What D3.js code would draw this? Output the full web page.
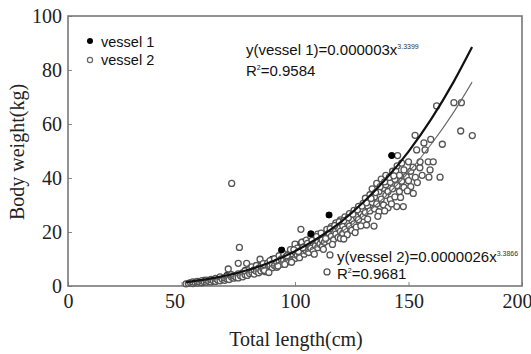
<!DOCTYPE html>
<html>
<head>
<meta charset="utf-8">
<script src="https://cdn.jsdelivr.net/npm/d3@7/dist/d3.min.js"></script>
<style>
  body { margin: 0; background: #fff; }
  svg { display: block; }
</style>
</head>
<body>
<div class="chart"></div>
<script>

// ticks
var xTicks = [0, 50, 100, 150, 200];
var yTicks = [0, 20, 40, 60, 80, 100];

// vessel 1 points (total length, body weight)
var vessel1 = [
	[142.6, 48.3], [115, 26.3], [107, 19.3], [94.1, 13.3],
	[100, 14.0], [104, 16.5], [102, 15.4], [85, 8.0], [90, 10.0], [60, 2.2], [70, 4.0], [78, 5.8]
];

// vessel 2 points
var vessel2 = [
	[52, 0.8], [53, 1.0], [54, 1.2], [55, 0.9], [55, 1.5], [56, 1.3], [57, 1.1], [57, 1.7], [58, 1.4], [59, 1.2], [59, 2.0], [60, 1.6],
	[61, 1.4], [61, 2.2], [62, 1.8], [63, 1.5], [63, 2.4], [64, 2.0], [65, 1.7], [65, 2.8], [66, 2.2], [67, 1.9], [67, 3.4], [68, 2.5], [69, 2.1], [69, 3.0], [70, 2.7], [70, 3.6],
	[71, 2.4], [72, 3.3], [72, 4.2], [73, 2.9], [73, 3.8], [74, 3.2], [75, 4.5], [75, 3.0], [76, 3.8], [77, 4.9], [77, 3.4], [78, 4.2], [78, 5.6], [79, 3.9], [80, 4.6], [80, 6.2],
	[70.6, 6.3], [72.1, 38], [75, 8.4], [75.5, 14.3], [78.7, 8.4], [84.6, 9.9],
	[81, 5.0], [81, 7.1], [82, 4.4], [82, 6.0], [83, 5.5], [83, 7.6], [84, 4.9], [84, 6.6], [85, 7.2], [85, 5.6], [86, 6.2], [86, 8.3], [87, 7.0], [87, 5.3], [88, 8.6], [88, 6.4], [89, 7.4], [89, 9.4], [90, 6.8], [90, 8.2],
	[91, 7.6], [91, 10.1], [92, 8.8], [92, 6.9], [93, 9.3], [93, 11.2], [94, 8.1], [94, 10.0], [95, 9.5], [95, 12.0], [96, 8.6], [96, 10.8], [97, 11.5], [97, 9.2], [98, 10.4], [98, 13.0], [99, 9.8], [99, 11.9], [100, 12.6], [100, 10.2], [100, 15.5],
	[102.6, 21], [98, 13.5],
	[101, 11.3], [101, 14.0], [102, 12.2], [102, 10.5], [103, 13.5], [103, 16.2], [104, 11.8], [104, 14.6], [105, 13.0], [105, 17.0], [106, 15.2], [106, 12.4], [107, 14.0], [107, 18.1], [108, 16.0], [108, 13.2], [109, 15.0], [109, 17.5], [110, 14.2], [110, 16.6], [110, 19.2],
	[111, 15.5], [111, 18.0], [112, 17.0], [112, 14.8], [113, 19.3], [113, 16.2], [114, 18.2], [114, 21.0], [115, 16.8], [115, 19.6], [116, 22.0], [116, 18.4], [117, 17.2], [117, 20.5], [118, 23.4], [118, 19.2], [119, 21.6], [119, 18.0], [120, 20.2], [120, 24.5], [120, 17.6],
	[121, 22.3], [121, 19.5], [122, 25.6], [122, 21.0], [123, 23.4], [123, 19.0], [124, 26.8], [124, 22.2], [125, 24.4], [125, 20.6], [126, 28.0], [126, 23.0], [127, 25.6], [127, 21.8], [128, 29.5], [128, 24.6], [129, 27.0], [129, 22.3], [130, 30.6], [130, 25.8], [130, 28.4], [134.8, 22.2],
	[131, 27.2], [131, 32.5], [132, 29.6], [132, 24.8], [133, 33.8], [133, 27.8], [134, 31.0], [134, 36.0], [135, 28.6], [135, 33.0], [136, 38.0], [136, 30.4], [137, 35.0], [137, 27.5], [138, 32.2], [138, 39.6], [139, 36.2], [139, 30.0], [140, 41.0], [140, 33.6], [140, 37.5],
	[141, 35.0], [141, 29.0], [142, 38.4], [142, 32.0], [143, 42.5], [143, 36.0], [144, 39.5], [144, 33.0], [144.4, 42.7], [145, 44.5], [145, 37.2], [146, 41.0], [146, 35.0], [147, 38.8], [147, 45.5], [148, 43.0], [148, 36.5], [149, 40.5], [150, 46.0], [150, 39.0], [144.8, 29.4], [147.7, 29.4], [145.2, 48.3],
	[151, 42.5], [151, 36.8], [152, 44.0], [152.1, 34.3], [153, 40.2], [153.9, 38.3], [153.6, 50.4], [152.9, 55.8], [155, 43.8], [155.1, 46], [156, 41], [156.8, 53], [157.3, 50.4], [158.7, 46], [159, 40.3], [159.5, 43], [159.8, 54.3], [160.9, 46],
	[162.4, 66.7], [163.9, 40.3], [164.9, 52.5], [170, 67.9], [173.3, 67.9], [173, 57.4], [178.1, 55.7],
	[115.4, 11.5], [114.1, 5.2],
	// denser band along the curves
	[96.5, 11.2], [99.5, 13.4], [101.5, 12.8], [103.5, 14.2], [105.5, 15.8], [107.5, 16.9], [109.5, 18.3], [111.5, 19.6], [113.5, 17.6], [115.5, 21.2],
	[117.5, 22.4], [119.5, 23.8], [121.5, 24.2], [123.5, 25.3], [125.5, 26.6], [127.5, 28.2], [129.5, 29.6], [131.5, 30.8], [133.5, 32.4], [135.5, 34.6],
	[137.5, 36.8], [139.5, 38.6], [141.5, 40.2], [143.5, 40.8], [108.5, 11.8], [112.5, 13.6], [116.5, 15.4], [121.5, 17.4], [126.5, 19.8], [131.5, 22.6],
	[136.5, 25.8], [139.5, 27.8], [142.5, 30.4], [146.5, 32.8], [149.5, 35.2], [92.5, 7.4], [95.5, 8.0], [98.5, 8.8], [86.5, 5.8], [88.5, 5.0]
];

// fitted curves as drawn in the picture
var curveLength = [52, 60, 70, 80, 90, 100, 110, 120, 130, 140, 150, 160, 170, 178];
var curve1 = [1.45, 2.34, 3.91, 6.1, 9.06, 12.9, 17.7, 23.6, 30.9, 39.6, 49.8, 61.8, 75.8, 88.5];
var curve2 = [1.17, 1.89, 3.19, 5.02, 7.48, 10.7, 14.7, 19.8, 25.9, 33.3, 42.1, 52.5, 64.5, 75.5];

var width = 531, height = 354;

var svg = d3.select(".chart")
	.append("svg")
	.attr("width", width)
	.attr("height", height);

var x = d3.scaleLinear().domain([0, 200]).range([68, 522]);
var y = d3.scaleLinear().domain([0, 100]).range([286, 16]);

var serif = "'Liberation Serif', 'Times New Roman', serif";
var sans = "'Liberation Sans', Arial, sans-serif";

// axes, ticks pointing inward
var xAxis = svg.append("g")
	.attr("transform", "translate(0," + y(0) + ")")
	.call(d3.axisBottom(x).tickValues(xTicks).tickSize(-4).tickPadding(8));

var yAxis = svg.append("g")
	.attr("transform", "translate(" + x(0) + ",0)")
	.call(d3.axisLeft(y).tickValues(yTicks).tickSize(-4).tickPadding(6));

[xAxis, yAxis].forEach(function(a) {
	a.select(".domain").remove();
	a.selectAll("line").attr("stroke", "#888").attr("stroke-width", 1);
	a.selectAll("text")
		.style("font-family", serif)
		.style("font-size", "20px")
		.attr("fill", "#222");
});

// labels in the original sit a little left of some ticks
xAxis.selectAll("text")
	.attr("dx", d => d === 50 ? -7 : (d === 200 ? -5 : 0));

// frame
svg.append("rect")
	.attr("x", x(0))
	.attr("y", y(100))
	.attr("width", x(200) - x(0))
	.attr("height", y(0) - y(100))
	.attr("fill", "none")
	.attr("stroke", "#777")
	.attr("stroke-width", 1.6);

// points
svg.append("g")
	.selectAll("circle")
	.data(vessel1)
	.join("circle")
	.attr("cx", d => x(d[0]))
	.attr("cy", d => y(d[1]))
	.attr("r", 3.3)
	.attr("fill", "#000");

svg.append("g")
	.selectAll("circle")
	.data(vessel2)
	.join("circle")
	.attr("cx", d => x(d[0]))
	.attr("cy", d => y(d[1]))
	.attr("r", 3)
	.attr("fill", "#fff")
	.attr("stroke", "#555")
	.attr("stroke-width", 1.3);

// the black points that stand out above the cloud
svg.append("g")
	.selectAll("circle")
	.data(vessel1.slice(0, 4))
	.join("circle")
	.attr("cx", d => x(d[0]))
	.attr("cy", d => y(d[1]))
	.attr("r", 3.3)
	.attr("fill", "#000");

// curves
var line = d3.line()
	.x(d => x(d[0]))
	.y(d => y(d[1]))
	.curve(d3.curveMonotoneX);

svg.append("path")
	.datum(curveLength.map((l, i) => [l, curve2[i]]))
	.attr("d", line)
	.attr("fill", "none")
	.attr("stroke", "#666")
	.attr("stroke-width", 1.1);

svg.append("path")
	.datum(curveLength.map((l, i) => [l, curve1[i]]))
	.attr("d", line)
	.attr("fill", "none")
	.attr("stroke", "#111")
	.attr("stroke-width", 2.2);

// legend
svg.append("circle").attr("cx", 90).attr("cy", 41).attr("r", 3).attr("fill", "#000");
svg.append("circle").attr("cx", 90).attr("cy", 60).attr("r", 2.6)
	.attr("fill", "#fff").attr("stroke", "#666").attr("stroke-width", 1.2);

svg.append("text").attr("x", 101).attr("y", 47)
	.style("font-family", sans).style("font-size", "14.5px").attr("fill", "#111")
	.text("vessel 1");
svg.append("text").attr("x", 101).attr("y", 65)
	.style("font-family", sans).style("font-size", "14.5px").attr("fill", "#111")
	.text("vessel 2");

// equations
function equation(px, py, main, sup) {
	var t = svg.append("text").attr("x", px).attr("y", py)
		.style("font-family", sans).style("font-size", "15px").attr("fill", "#111");
	t.append("tspan").text(main);
	t.append("tspan").attr("dy", -6).style("font-size", "7px").attr("fill", "#333").text(sup);
}

function rsq(px, py, val) {
	var t = svg.append("text").attr("x", px).attr("y", py)
		.style("font-family", sans).style("font-size", "15px").attr("fill", "#111");
	t.append("tspan").text("R");
	t.append("tspan").attr("dy", -6).style("font-size", "7px").text("2");
	t.append("tspan").attr("dy", 6).text("=" + val);
}

equation(246, 55, "y(vessel 1)=0.000003x", "3.3399");
rsq(246, 76, "0.9584");
equation(337, 262, "y(vessel 2)=0.0000026x", "3.3866");
rsq(337, 279, "0.9681");

// axis titles
svg.append("text")
	.attr("x", 296)
	.attr("y", 346)
	.style("text-anchor", "middle")
	.style("font-family", serif)
	.style("font-size", "20px")
	.attr("fill", "#222")
	.text("Total length(cm)");

svg.append("text")
	.attr("transform", "translate(24,152) rotate(-90)")
	.style("text-anchor", "middle")
	.style("font-family", serif)
	.style("font-size", "20px")
	.attr("fill", "#222")
	.text("Body weight(kg)");

</script>
</body>
</html>
